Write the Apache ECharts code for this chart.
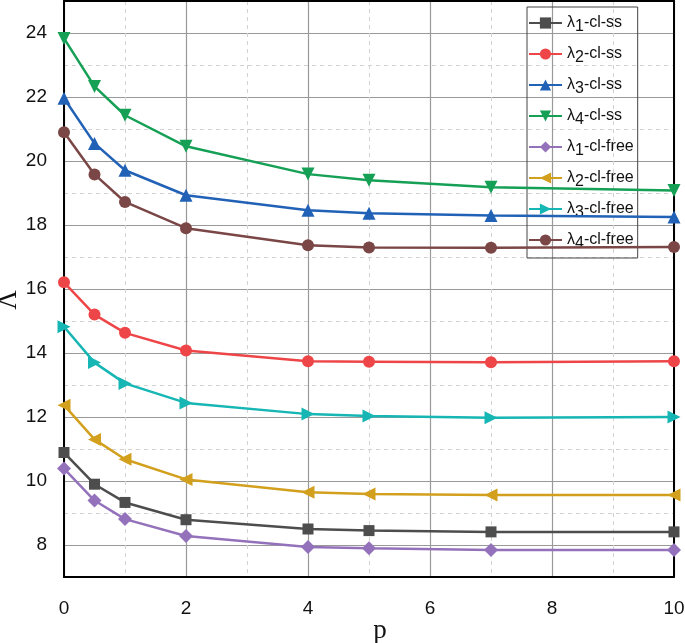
<!DOCTYPE html>
<html>
<head>
<meta charset="utf-8">
<script src="https://cdn.jsdelivr.net/npm/echarts@6/dist/echarts.min.js"></script>
<style>html,body{margin:0;padding:0;background:#fff;}#c{width:685px;height:643px;}</style>
</head>
<body>
<div id="c"></div>
<script>
const pValues = [0, 0.5, 1, 2, 4, 5, 7, 10];
const seriesNames = ['λ1-cl-ss','λ2-cl-ss','λ3-cl-ss','λ4-cl-ss','λ1-cl-free','λ2-cl-free','λ3-cl-free','λ4-cl-free'];
const lambda1_ss   = [10.89, 9.90, 9.33, 8.79, 8.50, 8.45, 8.41, 8.41];
const lambda2_ss   = [16.21, 15.20, 14.63, 14.08, 13.74, 13.73, 13.71, 13.74];
const lambda3_ss   = [21.96, 20.55, 19.71, 18.93, 18.46, 18.37, 18.30, 18.25];
const lambda4_ss   = [23.83, 22.33, 21.43, 20.46, 19.59, 19.40, 19.18, 19.08];
const lambda1_free = [10.39, 9.39, 8.81, 8.28, 7.94, 7.90, 7.84, 7.84];
const lambda2_free = [12.37, 11.30, 10.68, 10.05, 9.65, 9.59, 9.56, 9.56];
const lambda3_free = [14.82, 13.70, 13.05, 12.44, 12.09, 12.03, 11.98, 12.00];
const lambda4_free = [20.90, 19.58, 18.72, 17.90, 17.37, 17.30, 17.29, 17.31];
const allValues = [lambda1_ss, lambda2_ss, lambda3_ss, lambda4_ss, lambda1_free, lambda2_free, lambda3_free, lambda4_free];

const colors = ['#4d4d4d', '#ee4648', '#2162b6', '#15a056', '#9472bb', '#d3a01e', '#16b6b4', '#7a4646'];
const symbols = ['rect', 'circle', 'triangle', 'triangle', 'diamond', 'triangle', 'triangle', 'circle'];
const rotates = [0, 0, 0, 180, 0, 90, -90, 0];
const sizes = [11, 12, 13, 13, 14, 13, 13, 12];

const chart = echarts.init(document.getElementById('c'), null, {renderer: 'canvas'});

const series = seriesNames.map((n, i) => ({
  name: n,
  type: 'line',
  xAxisIndex: 0,
  yAxisIndex: 0,
  data: pValues.map((p, j) => [p, allValues[i][j]]),
  symbol: symbols[i],
  symbolRotate: rotates[i],
  symbolSize: sizes[i],
  showAllSymbol: true,
  lineStyle: {color: colors[i], width: 2.5},
  itemStyle: {color: colors[i]},
  z: 5
}));

const option = {
  animation: false,
  backgroundColor: '#fff',
  grid: {left: 64, right: 11, top: 1, bottom: 66, containLabel: false, outerBoundsMode: 'none'},
  xAxis: [
    {
      type: 'value', min: 0, max: 10, interval: 1,
      axisLine: {show: true, onZero: false, lineStyle: {color: '#000', width: 2}},
      axisTick: {show: false},
      axisLabel: {
        formatter: v => (v % 2 === 0 ? String(v) : ''),
        fontFamily: 'Liberation Sans, Arial', fontSize: 19, color: '#111', margin: 22
      },
      splitLine: {show: true, lineStyle: {color: ['#999999', 'rgba(0,0,0,0)'], width: 1.2, type: 'solid'}},
      name: 'p', nameLocation: 'middle', nameGap: 40, nameMoveOverlap: false,
      nameTextStyle: {fontFamily: 'Liberation Serif, Times New Roman', fontSize: 27, color: '#111', padding: [0, 0, 0, 22]}
    },
    {
      type: 'value', min: 0, max: 10, interval: 1, position: 'bottom',
      axisLine: {show: false}, axisTick: {show: false}, axisLabel: {show: false},
      splitLine: {show: true, lineStyle: {color: ['rgba(0,0,0,0)', '#d2d2d2'], width: 1, type: [4, 4]}}
    },
    {
      type: 'value', min: 0, max: 10, position: 'top',
      axisLine: {show: true, onZero: false, lineStyle: {color: '#000', width: 2}},
      axisTick: {show: false}, axisLabel: {show: false}, splitLine: {show: false}
    }
  ],
  yAxis: [
    {
      type: 'value', min: 7, max: 25, interval: 1,
      axisLine: {show: true, onZero: false, lineStyle: {color: '#000', width: 2}},
      axisTick: {show: false},
      axisLabel: {
        formatter: v => (v % 2 === 0 ? String(v) : ''),
        fontFamily: 'Liberation Sans, Arial', fontSize: 19, color: '#111', margin: 17
      },
      splitLine: {show: true, lineStyle: {color: ['rgba(0,0,0,0)', '#999999'], width: 1.2, type: 'solid'}},
      name: 'Λ', nameLocation: 'middle', nameGap: 42, nameRotate: 90, nameMoveOverlap: false,
      nameTextStyle: {fontFamily: 'Liberation Serif, Times New Roman', fontSize: 27, color: '#111', padding: [0, 22, 0, 0]}
    },
    {
      type: 'value', min: 7, max: 25, interval: 1,
      axisLine: {show: false}, axisTick: {show: false}, axisLabel: {show: false},
      splitLine: {show: true, lineStyle: {color: ['#d2d2d2', 'rgba(0,0,0,0)'], width: 1, type: [4, 4]}}
    },
    {
      type: 'value', min: 7, max: 25, position: 'right',
      axisLine: {show: true, onZero: false, lineStyle: {color: '#000', width: 2}},
      axisTick: {show: false}, axisLabel: {show: false}, splitLine: {show: false}
    }
  ],
  legend: {
    orient: 'vertical',
    left: 527, top: 7,
    padding: [8, 4, 6, 1],
    itemGap: 11,
    itemWidth: 33,
    itemHeight: 14,
    backgroundColor: 'rgba(0,0,0,0)',
    borderColor: '#444',
    borderWidth: 1,
    data: seriesNames,
    formatter: name => {
      const m = name.match(/^λ(\d)(.*)$/);
      return '{a|λ}{s|' + m[1] + '}{a|' + m[2] + '}';
    },
    textStyle: {
      fontFamily: 'Liberation Sans, Arial', fontSize: 16, color: '#111',
      rich: {
        a: {fontFamily: 'Liberation Sans, Arial', fontSize: 16, color: '#111', verticalAlign: 'middle'},
        s: {fontFamily: 'Liberation Sans, Arial', fontSize: 16, color: '#111', verticalAlign: 'bottom', padding: [8, 0, 0, 0]}
      }
    }
  },
  series: series
};
chart.setOption(option);
</script>
</body>
</html>
